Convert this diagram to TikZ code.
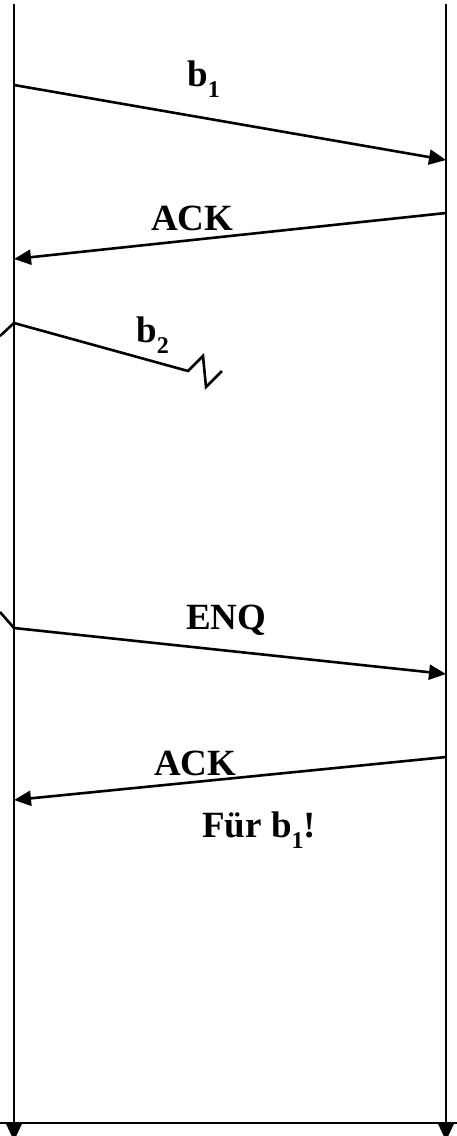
\documentclass[tikz,border=0pt]{standalone}
\usepackage{fontspec}
\setmainfont{Liberation Serif}
\usetikzlibrary{arrows.meta}
\newcommand\mysub[1]{\raisebox{-0.3em}{\fontsize{24}{24}\selectfont #1}}
\begin{document}
\begin{tikzpicture}[x=1pt,y=-1pt,
  line/.style={line width=2.6pt},
  msg/.style={line width=2.6pt,-{Triangle[length=17pt,width=15pt]}},
  lbl/.style={anchor=base west,inner sep=0pt,font=\fontsize{37}{40}\selectfont\bfseries}]
\useasboundingbox (0,0) rectangle (457,1136);
% lifelines
\coordinate (Ltop) at (14,4);
\coordinate (Rtop) at (446,4);
\coordinate (Lbot) at (14,1141);
\coordinate (Rbot) at (446,1141);
\coordinate (HL) at (0,1123);
\coordinate (HR) at (457,1123);
\draw[msg] (Ltop) -- (Lbot);
\draw[msg] (Rtop) -- (Rbot);
\draw[line] (HL) -- (HR);
% message points
\coordinate (b1s) at (14,85);
\coordinate (b1e) at (446,160);
\coordinate (a1s) at (446,213);
\coordinate (a1e) at (14,259);
\coordinate (b2s) at (14,323);
\coordinate (b2e) at (188,371);
\coordinate (z1) at (203,356);
\coordinate (z2) at (206,387);
\coordinate (z3) at (222,371);
\coordinate (es) at (14,628);
\coordinate (ee) at (446,674);
\coordinate (a2s) at (446,757);
\coordinate (a2e) at (14,800);
% left bracket stubs
\coordinate (k1) at (0,336);
\coordinate (k2) at (0,612);
\draw[line] (k1) -- (b2s);
\draw[line] (k2) -- (es);
% messages
\draw[msg] (b1s) -- (b1e);
\draw[msg] (a1s) -- (a1e);
\draw[line,line join=miter] (b2s) -- (b2e) -- (z1) -- (z2) -- (z3);
\draw[msg] (es) -- (ee);
\draw[msg] (a2s) -- (a2e);
% labels
\node[lbl] (lb1) at (187,86) {b\mysub{1}};
\node[lbl] (la1) at (151,230) {ACK};
\node[lbl] (lb2) at (136,342) {b\mysub{2}};
\node[lbl] (le) at (186,629) {ENQ};
\node[lbl] (la2) at (154,775) {ACK};
\node[lbl] (lf) at (202,837) {Für b\mysub{1}!};
\end{tikzpicture}
\end{document}
